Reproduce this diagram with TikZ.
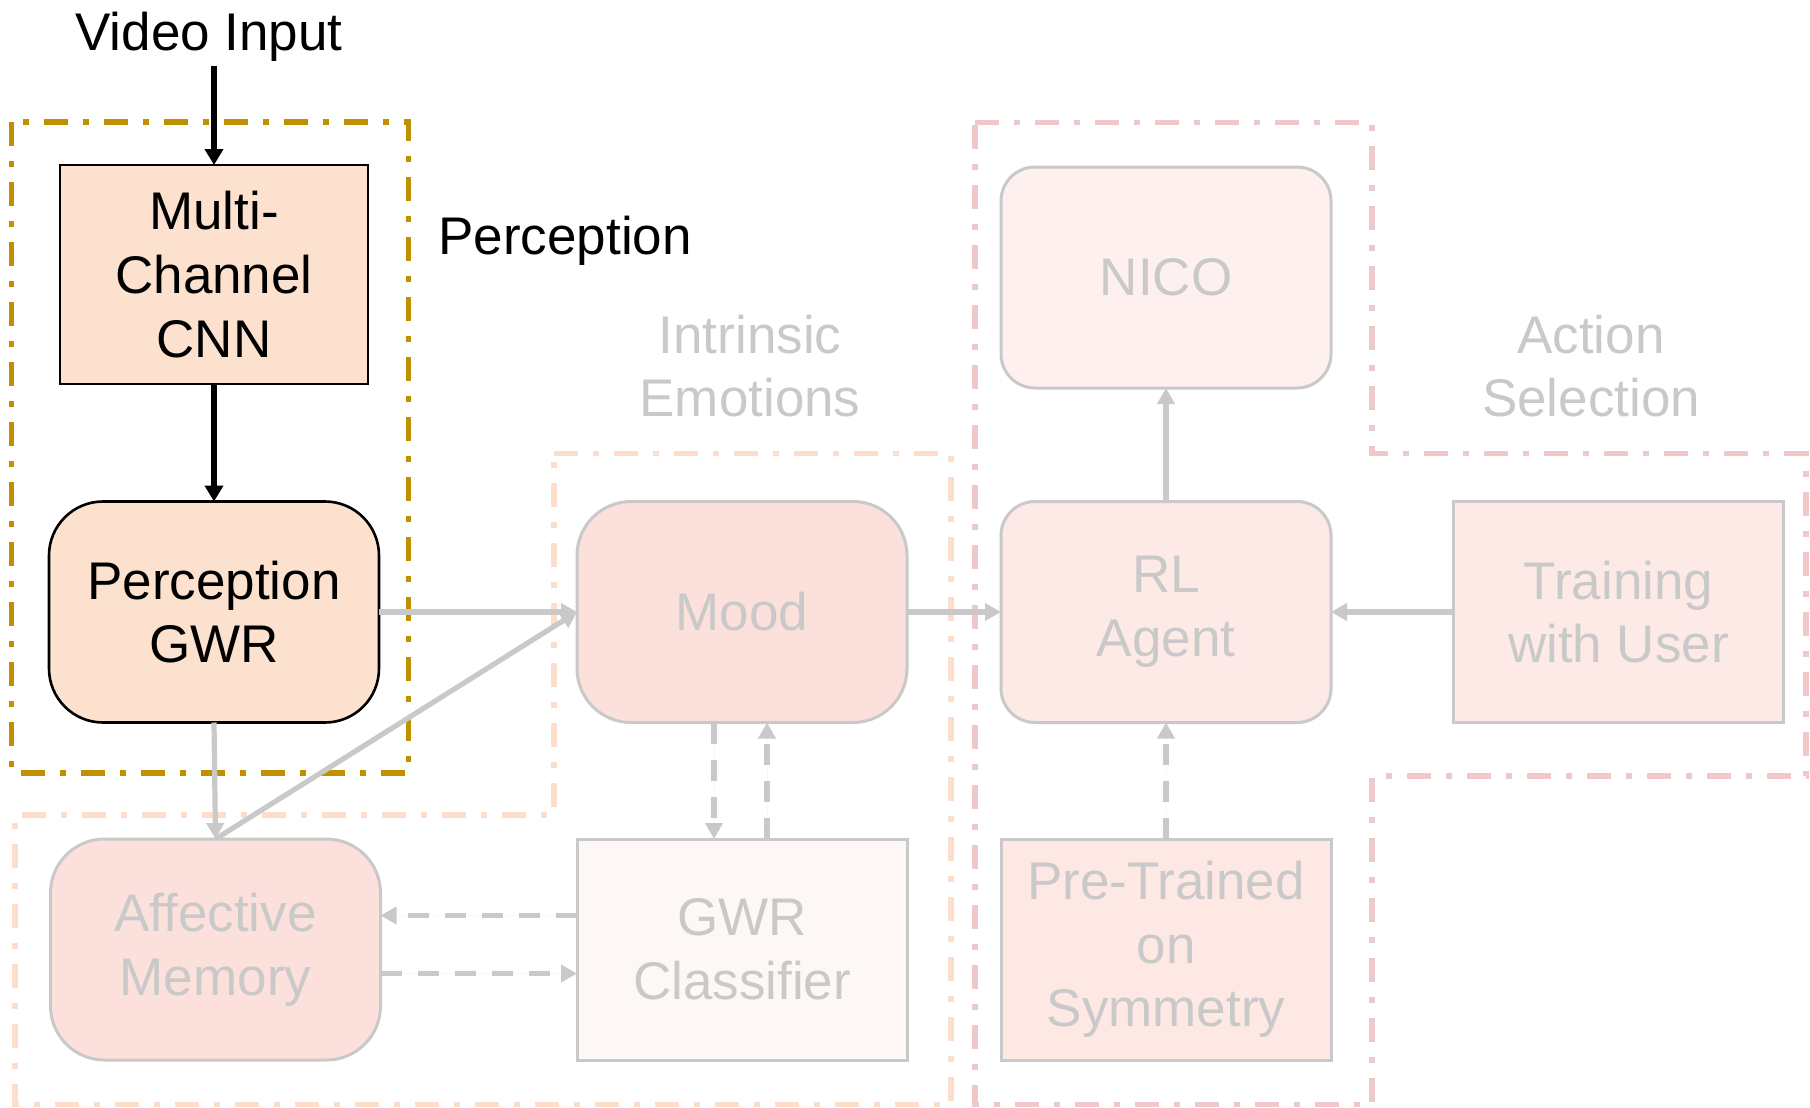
\documentclass[tikz,border=0pt]{standalone}
\usepackage{fontspec}
\setmainfont{Liberation Sans}
\usetikzlibrary{arrows.meta,calc}

\definecolor{goldline}{RGB}{191,144,0}
\definecolor{peachline}{RGB}{252,222,202}
\definecolor{pinkline}{RGB}{240,200,202}
\definecolor{cnnfill}{RGB}{252,225,206}
\definecolor{moodfill}{RGB}{252,224,219}
\definecolor{clsfill}{RGB}{253,248,245}
\definecolor{nicofill}{RGB}{253,240,238}
\definecolor{rlfill}{RGB}{253,234,230}
\definecolor{prefill}{RGB}{253,232,227}
\definecolor{fadegray}{RGB}{201,201,201}

\tikzset{
  region/.style={line width=2.6pt, dash pattern=on 12pt off 7.5pt on 3pt off 7.5pt},
  box/.style={minimum width=165pt, minimum height=110.5pt, inner sep=0pt,
    outer sep=0pt, align=center, line width=1.5pt, draw=fadegray, text=fadegray},
  sqbox/.style={box},
  biground/.style={box, rounded corners=27pt},
  smallround/.style={box, rounded corners=17pt},
  darkbox/.style={draw=black, text=black, line width=1.3pt},
  darkarrow/.style={line width=3pt, -{Triangle[length=8pt,width=9pt]}},
  fadearrow/.style={line width=2.6pt, draw=fadegray, fill=fadegray,
    -{Triangle[length=8pt,width=8.5pt]}},
  fadedash/.style={fadearrow, line width=2.7pt, dash pattern=on 10.5pt off 8pt},
  caption/.style={inner sep=0pt, align=center}
}

\begin{document}
\begin{tikzpicture}[x=0.5pt, y=-0.5pt, font=\fontsize{26.5}{31.8}\selectfont]
\useasboundingbox (0,0) rectangle (1810,1108);

% group outlines
\draw[region, draw=goldline] (11.5,122) rectangle (408.6,773);
\draw[region, draw=peachline] (554,453.6) -- (951,453.6) -- (951,1104.5)
  -- (15,1104.5) -- (15,815) -- (554,815) -- cycle;
\draw[region, draw=pinkline] (975,122.5) -- (1372,122.5) -- (1372,453.6)
  -- (1806,453.6) -- (1806,776) -- (1372,776) -- (1372,1104.5)
  -- (975,1104.5) -- cycle;

% group captions
\node[caption] (vin) at (209,37) {Video Input};
\node[caption, anchor=west] (plab) at (438,241) {Perception};
\node[caption, text=fadegray] (ilab) at (750,366) {Intrinsic\\Emotions};
\node[caption, text=fadegray] (alab) at (1591,366) {Action\\Selection};

% blocks
\node[sqbox, darkbox, fill=cnnfill, minimum width=154pt, minimum height=109.5pt]
  (cnn) at (214,274.5) {Multi-\\Channel\\CNN};
\node[biground, darkbox, fill=cnnfill] (pgwr) at (214,612) {Perception\\GWR};
\node[biground, fill=moodfill] (mood) at (742,612) {Mood};
\node[sqbox, fill=clsfill] (cls) at (742,949.5) {GWR\\Classifier};
\node[biground, fill=moodfill] (mem) at (215.5,949.5) {Affective\\Memory};
\node[smallround, fill=nicofill] (nico) at (1166,277.5) {NICO};
\node[smallround, fill=rlfill] (rl) at (1166,612) {RL\\Agent};
\node[sqbox, fill=prefill] (pre) at (1166,949.5) {Pre-Trained\\on\\Symmetry};
\node[sqbox, fill=rlfill] (train) at (1618.5,612) {Training\\with User};

% connectors
\draw[darkarrow, shorten <=2pt] (vin.south -| cnn.north) -- (cnn.north);
\draw[darkarrow] (cnn.south) -- (pgwr.north);
\draw[fadearrow] (pgwr.east) -- (mood.west);
\draw[fadearrow] (pgwr.south) -- (mem.north);
\draw[fadearrow] (mem.north) -- (mood.west);
\draw[fadearrow] (mood.east) -- (rl.west);
\draw[fadearrow] (rl.north) -- (nico.south);
\draw[fadearrow] (train.west) -- (rl.east);
\draw[fadedash] (pre.north) -- (rl.south);
\draw[fadedash] ([xshift=-14pt]mood.south) -- ([xshift=-14pt]cls.north);
\draw[fadedash] ([xshift=12.5pt]cls.north) -- ([xshift=12.5pt]mood.south);
\draw[fadedash] ([yshift=17pt]cls.west) -- ([yshift=17pt]mem.east);
\draw[fadedash] ([yshift=-12pt]mem.east) -- ([yshift=-12pt]cls.west);
\end{tikzpicture}
\end{document}
